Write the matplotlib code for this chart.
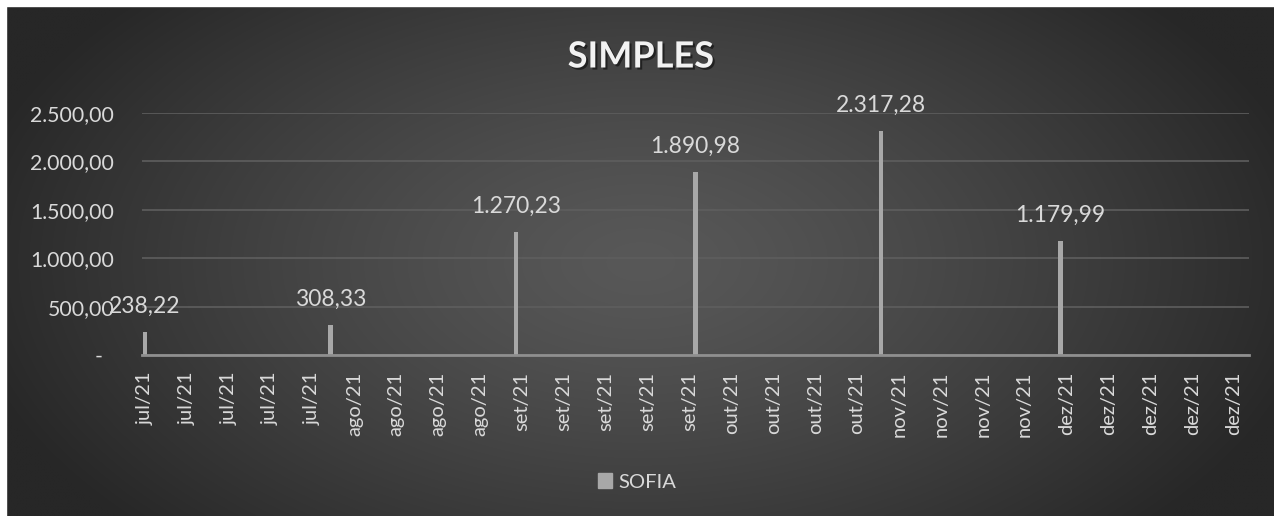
import numpy as np
import matplotlib
matplotlib.use("Agg")
import matplotlib.pyplot as plt
import matplotlib.dates as mdates
import matplotlib.patheffects as pe
from matplotlib.patches import Rectangle
from datetime import date, timedelta

# ---- data ----
bar_dates = ["2021-07-01", "2021-08-01", "2021-09-01", "2021-10-01", "2021-11-01", "2021-12-01"]
bar_values = [238.22, 308.33, 1270.23, 1890.98, 2317.28, 1179.99]
series_name = "SOFIA"
title = "SIMPLES"
y_ticks = [0, 500, 1000, 1500, 2000, 2500]
month_abbr = ["jan", "fev", "mar", "abr", "mai", "jun", "jul", "ago", "set", "out", "nov", "dez"]
axis_start = "2021-07-01"
axis_end = "2022-01-01"

plt.rcParams['font.family'] = ['Lato', 'DejaVu Sans']

W, H = 1274, 516
fig = plt.figure(figsize=(W / 100, H / 100), dpi=100)
fig.patch.set_facecolor("#272727")

# background radial gradient
bg = fig.add_axes([6 / W, 0, 1 - 6 / W, 1 - 6 / H])
bg.set_axis_off()
yy, xx = np.mgrid[0:300, 0:700]
cx, cy = 350, 150
r = np.sqrt(((xx - cx) / 380) ** 2 + ((yy - cy) / 230) ** 2)
r = np.clip(r, 0, 1)
inner = np.array([0x58, 0x58, 0x58]) / 255
outer = np.array([0x27, 0x27, 0x27]) / 255
img = inner[None, None, :] * (1 - r[..., None] ** 1.3) + outer[None, None, :] * (r[..., None] ** 1.3)
bg.imshow(img, aspect='auto', extent=[0, 1, 0, 1], interpolation='bilinear')
bg.set_xlim(0, 1)
bg.set_ylim(0, 1)

# white margins at top and left
fig.patches.append(Rectangle((0, 0), 6 / W, 1, transform=fig.transFigure, color="white", zorder=10))
fig.patches.append(Rectangle((0, 1 - 6 / H), 1, 6 / H, transform=fig.transFigure, color="white", zorder=10))

txt_color = "#d9d9d9"
bar_color = "#a8a8a8"

left, right = 142 / W, 1249 / W
bottom, top = 1 - 355 / H, 1 - 113 / H
ax = fig.add_axes([left, bottom, right - left, top - bottom])
ax.set_facecolor("none")

dts = [np.datetime64(d) for d in bar_dates]
xd = mdates.date2num(dts)
ax.bar(xd, bar_values, width=0.7, color=bar_color, zorder=3)

x0 = mdates.date2num(np.datetime64(axis_start)) - 0.5
x1 = mdates.date2num(np.datetime64(axis_end)) + 0.5
ax.set_xlim(x0, x1)
ax.set_ylim(0, 2500)

# weekly ticks
start = date.fromisoformat(axis_start)
end = date.fromisoformat(axis_end)
tick_dates = []
d = start
while d <= end:
    tick_dates.append(d)
    d += timedelta(days=7)
ax.set_xticks(mdates.date2num(tick_dates))
ax.set_xticklabels([f"{month_abbr[t.month - 1]}/{t.year % 100:02d}" for t in tick_dates],
                   rotation=90, color=txt_color, fontsize=14.5)
ax.tick_params(axis='x', length=0, pad=12)


def br(v):
    s = f"{v:,.2f}"
    return s.replace(",", "X").replace(".", ",").replace("X", ".")


ax.set_yticks(y_ticks)
ax.set_yticklabels([br(v) if v != 0 else "-  " for v in y_ticks], color=txt_color, fontsize=15.3)
ax.tick_params(axis='y', length=0, pad=20)

ax.grid(axis='y', color="#5e5e5e", linewidth=1.2, zorder=0)
for s in ["top", "right", "left"]:
    ax.spines[s].set_visible(False)
ax.spines["bottom"].set_color("#8f8f8f")
ax.spines["bottom"].set_linewidth(2)
ax.spines["bottom"].set_zorder(4)

for x, v in zip(xd, bar_values):
    ax.annotate(br(v), (x, v), xytext=(0, 11), textcoords="offset points",
                ha="center", va="bottom", color=txt_color, fontsize=16.5, zorder=5)

fig.text(0.503, 1 - 57 / H, title,
         ha="center", va="center", fontsize=26, fontweight="bold",
         color="#f2f2f2",
         path_effects=[pe.withSimplePatchShadow(offset=(1.5, -1.5), shadow_rgbFace="black", alpha=0.5)])

# legend
leg = fig.legend(handles=[plt.Rectangle((0, 0), 1, 1, color=bar_color)], labels=[series_name],
                 loc="center", bbox_to_anchor=(0.5, 1 - 482 / H), frameon=False,
                 fontsize=14.5, handlelength=0.7, handleheight=0.7, handletextpad=0.3)
for t in leg.get_texts():
    t.set_color(txt_color)

fig.savefig("out.png", dpi=100, facecolor=fig.get_facecolor())
